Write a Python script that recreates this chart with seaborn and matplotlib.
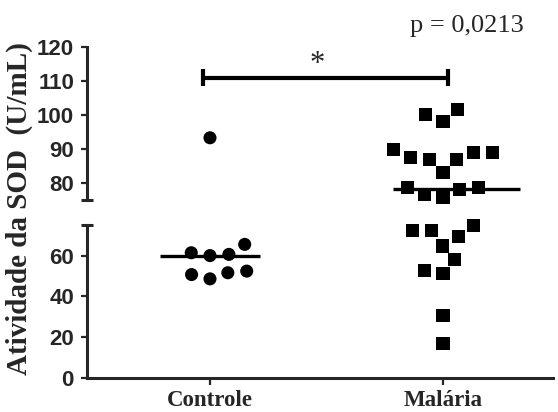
import numpy as np
import pandas as pd
import matplotlib
matplotlib.use("Agg")
import matplotlib.pyplot as plt
import seaborn as sns

# SOD activity (U/mL) per subject
groups = ["Controle", "Malária"]
controle = [93.3, 65.5, 60.6, 60.0, 61.4, 51.6, 48.6, 50.7, 52.4]
malaria = [101.5, 100.1, 98.1, 89.9, 89.0, 89.0, 87.5, 87.0, 87.0, 83.2,
           78.8, 78.8, 78.1, 76.6, 75.6,
           74.9, 72.1, 72.1, 69.3, 64.7, 58.1, 52.9, 51.2, 30.7, 16.7]
lower_ticks = [0, 20, 40, 60]
upper_ticks = [80, 90, 100, 110, 120]
lower_range = (0, 75)
upper_range = (75, 120)
p_text = "p = 0,0213"
ylabel = "Atividade da SOD  (U/mL)"

df = pd.DataFrame({
    "grupo": [groups[0]] * len(controle) + [groups[1]] * len(malaria),
    "sod": controle + malaria,
})

sns.set_theme(style="ticks")
plt.rcParams["font.family"] = ["Liberation Sans", "DejaVu Sans"]

W, H = 558, 412
fig = plt.figure(figsize=(W / 100, H / 100), dpi=100)
ax_lo = fig.add_axes([86.5 / W, 34 / H, 466 / W, 153 / H])
ax_hi = fig.add_axes([86.5 / W, 212 / H, 466 / W, 153 / H])

markers = {groups[0]: "o", groups[1]: "s"}
segments = [(ax_lo, df["sod"] < upper_range[0]),
            (ax_hi, df["sod"] >= upper_range[0])]
for ax, in_seg in segments:
    for g in groups:
        sub = df[in_seg & (df["grupo"] == g)]
        # invisible edge width widens the swarm spacing between markers
        sns.swarmplot(data=sub, x="grupo", y="sod", order=groups,
                      marker=markers[g], color="black", size=9.4,
                      edgecolor="none", linewidth=3.6, ax=ax, zorder=3,
                      clip_on=False)
    # drop the empty collections left for absent groups
    for coll in list(ax.collections):
        if len(coll.get_offsets()) == 0:
            coll.remove()

# median lines
med_span = {groups[0]: (-0.215, 0.215), groups[1]: (-0.215, 0.33)}
for i, g in enumerate(groups):
    med = float(np.median(df.loc[df["grupo"] == g, "sod"]))
    ax = ax_hi if med >= upper_range[0] else ax_lo
    lo, hi = med_span[g]
    ax.hlines(med, i + lo, i + hi, color="black", lw=2.4, zorder=4)

for ax in (ax_lo, ax_hi):
    ax.set_xlim(-0.53, 1.47)
    ax.set_xlabel("")
    ax.set_ylabel("")
    for s in ("top", "right"):
        ax.spines[s].set_visible(False)
    ax.spines["left"].set_linewidth(2.2)
    ax.spines["bottom"].set_linewidth(2.2)
    ax.tick_params(axis="y", direction="out", length=4, width=1.6,
                   labelsize=16, pad=5)

ax_lo.set_ylim(*lower_range)
ax_hi.set_ylim(*upper_range)
ax_lo.set_yticks(lower_ticks)
ax_hi.set_yticks(upper_ticks)
ax_lo.set_yticklabels([str(t) for t in lower_ticks], fontweight="bold")
ax_hi.set_yticklabels([str(t) for t in upper_ticks], fontweight="bold")

# caps at the axis break
ax_lo.set_yticks([lower_range[1]], minor=True)
ax_hi.set_yticks([upper_range[0]], minor=True)
for ax in (ax_lo, ax_hi):
    ax.tick_params(axis="y", which="minor", direction="inout", length=8,
                   width=2.2)

ax_hi.spines["bottom"].set_visible(False)
ax_hi.tick_params(axis="x", bottom=False, labelbottom=False)

ax_lo.set_xticks(range(len(groups)))
ax_lo.set_xticklabels(groups, family="Liberation Serif", fontweight="bold",
                      fontsize=16.5)
ax_lo.tick_params(axis="x", direction="out", length=5, width=1.6, pad=4)

# significance bracket
by = 111.0
ax_hi.plot([-0.03, 1.02], [by, by], color="black", lw=3, clip_on=False,
           solid_capstyle="butt")
for xb in (-0.03, 1.02):
    ax_hi.plot([xb, xb], [by - 2.4, by + 2.4], color="black", lw=3,
               clip_on=False, solid_capstyle="butt")
ax_hi.text(0.46, by - 0.3, "*", ha="center", va="bottom", fontsize=22,
           family="Liberation Serif")

fig.text(467 / W, 1 - 26 / H, p_text, ha="center", va="center",
         fontsize=19, family="Liberation Serif")
fig.text(19 / W, 1 - 209 / H, ylabel, rotation=90, ha="center", va="center",
         fontsize=21, fontweight="bold", family="Liberation Serif")

fig.savefig("out.png", dpi=100, facecolor="white")
